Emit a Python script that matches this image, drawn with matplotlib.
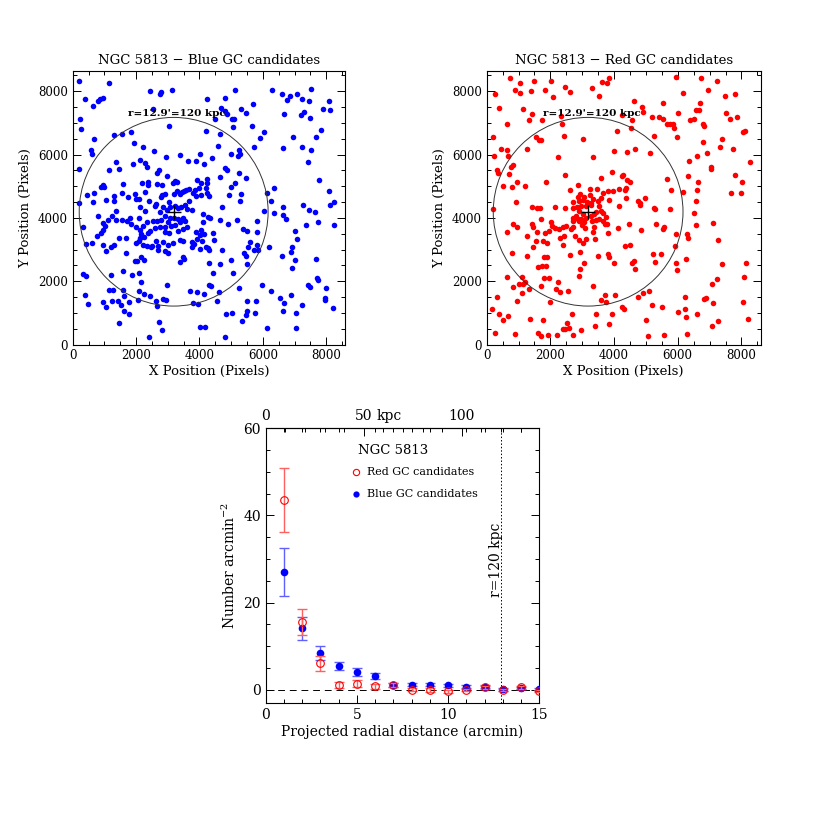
import matplotlib
matplotlib.use('Agg')
import matplotlib.pyplot as plt
from matplotlib.patches import Circle
from matplotlib.ticker import MultipleLocator

# ---------------- data ----------------
blue_pos = [
 (200,8320),(1160,8250),(400,7770),(640,7550),(800,7700),(870,7770),(940,7790),(2430,8000),(2750,7930),(2800,7970),
 (3120,8030),(2540,7450),(240,7110),(270,6820),(3050,6890),(1310,6610),(1560,6640),(1830,6700),(670,6500),(590,6130),
 (610,6020),(1920,6380),(2230,6240),(2570,6120),(2950,5940),(3370,5990),(3650,5790),(3900,5790),(4020,6030),(4150,5690),
 (200,5540),(1160,5500),(1460,5560),(1370,5760),(1900,5700),(2120,5820),(2290,5750),(2350,5620),(2650,5430),(2710,5520),
 (2990,5330),(3220,5170),(3170,5110),(3280,5130),(940,5040),(980,4990),(890,4980),(1600,5070),(2180,5110),(2370,5150),
 (2370,5030),(2660,5080),(2830,5040),(3910,5200),(4040,5110),(3980,4940),(4200,4950),(460,4720),(680,4800),(1050,4570),
 (1290,4700),(1290,4530),(1540,4780),(1740,4650),(1960,4770),(2080,4590),(2000,4600),(2270,4820),(2420,4530),(2640,4450),
 (2820,4730),(2780,4670),(2900,4750),(3040,4490),(3200,4740),(3280,4840),(3400,4740),(3440,4820),(3500,4860),(3590,4880),
 (3680,4920),(3780,4780),(3850,4890),(3890,4690),(4060,4730),(3660,4530),(200,4460),(640,4490),
 (4240,7770),(4820,7790),(5130,8040),(4690,7470),(4810,7380),(4860,7290),(4480,7140),(5040,7110),(5090,7140),(5320,7440),
 (5470,7320),(5690,7590),(6300,8050),(6600,7900),(6770,7730),(6860,7860),(7090,7930),(7230,7760),(7460,7690),(7520,8060),
 (6660,7290),(7210,7240),(7290,7360),(7480,7170),(7900,7430),(8080,7700),(8120,7420),(5650,6890),(5070,6860),(4640,6640),
 (4210,6730),(6040,6700),(5920,6510),(5720,6230),(4590,6260),(5000,6010),(5230,5950),(5270,6030),(5260,6130),(4390,5900),
 (6950,6560),(6630,6220),(7230,6250),(7530,6130),(7690,6570),(7840,6790),(7410,5780),(4790,5580),(4880,5500),(5250,5420),
 (5470,5260),(4640,5280),(4250,5240),(4240,5090),(5000,4970),(5120,5100),(4940,4710),(5300,4750),(5280,4540),(6130,4790),
 (6340,4960),(6260,4550),(7780,5190),(8090,4860),(8230,4500),(4240,4790),(4300,4700),
 (4710,4330),(6640,4330),(7280,4400),(8110,4400),(4340,4010),(4660,3940),(4910,3820),(5190,3930),(5370,3650),(5510,3600),
 (5800,3890),(5800,3550),(6030,4230),(6340,4170),(6640,4100),(6720,3980),(7440,4260),(7640,4200),(7730,3860),(7370,3770),
 (8250,3780),(4430,3520),(4450,3290),(4270,3040),(4310,2980),(4700,3000),(4980,2660),(4310,2590),(4430,2250),(4660,2530),
 (5060,2270),(5400,2890),(5460,2800),(5510,2550),(5580,3240),(5540,3090),(5710,3000),(5830,3160),(5850,2990),(6200,3080),
 (6610,2810),(6920,3090),(6900,2910),(7000,3600),(7090,3320),(7000,2670),(6920,2430),(7680,2710),(5960,1890),(6260,1680),
 (5240,1780),(4600,1660),(4300,1880),(4350,1860),(4540,1360),(5500,1390),(5790,1380),(6540,1460),(6660,1320),(6640,1060),
 (6890,1580),(7230,1260),(7060,1000),(7410,1890),(7500,1810),(7700,2100),(7730,2040),(8000,1790),(7960,1470),(7970,1410),
 (8220,1140),(4830,960),(5040,1000),(5510,1070),(5480,930),(5750,990),(5330,740),(6140,530),(7040,530),(4800,250),
 (2120,4330),(2270,4220),(2610,4380),(2750,4200),(2850,4350),(2970,4250),(3070,4330),(3220,4380),(3320,4310),(3430,4330),
 (3530,4400),(3610,4280),(3770,4260),(4120,4120),(4270,4030),(2920,4070),(3060,4010),(3200,3990),(3320,3960),(3480,4010),
 (2800,3930),(2670,3910),(2540,3890),(3010,3860),(3380,3860),(3530,3890),(3620,3700),(3220,3780),(3090,3750),(2900,3700),
 (2750,3720),(2590,3680),(800,4060),(970,3840),(1010,3730),(1120,3930),(1230,4070),(1380,4210),(1380,3940),(1560,3920),
 (1700,3910),(1810,3990),(1850,3810),(2000,3700),(2090,3990),(2230,3760),(2340,3860),(2110,3610),(2170,3500),(2250,3410),
 (2380,3530),(2440,3590),(2900,3540),(3040,3510),(3310,3580),(3480,3650),(3900,3550),(4040,3610),(4120,3860),(4020,3450),
 (4140,3490),(320,3720),(780,3420),(900,3510),(970,3610),(1460,3350),(1690,3380),(1990,3210),(2080,3280),(2120,3380),
 (2220,3150),(2340,3100),(2500,3110),(2640,3280),(2690,3120),(2860,3240),(3010,3150),(3170,3220),(3390,3300),(3480,3270),
 (3770,3240),(3830,3170),(3910,3340),(4090,3280),(4200,3070),(4020,3030),(3750,3070),(3010,2900),(2920,2960),(2690,2980),
 (2480,3070),(960,3160),(1210,3090),(1300,3140),(1040,2960),(610,3220),(430,3170),(1670,2900),(1980,2650),(2040,2650),
 (2150,2750),(2260,2670),(3490,2770),(3510,2690),(3390,2620),(4140,1590),(320,2230),(410,2180),(1200,2190),(1600,2310),
 (1880,2190),(2100,2270),(2140,1960),(2970,1870),(390,1570),(480,1280),(960,1350),(1160,1720),(1280,1720),(1060,1170),
 (1250,1380),(1430,1390),(1600,1720),(1610,1530),(1780,1350),(1510,1260),(1630,1050),(1770,960),(1460,690),(2080,1680),
 (2070,1410),(2260,1610),(2440,1520),(2620,1360),(2650,1210),(2860,1430),(2950,1410),(2710,700),(2810,470),(2400,250),
 (3710,1680),(3930,1670),(3780,1300),(3940,1280),(4020,560),(4170,560),
]

red_pos = [
 (720,8430),(1030,8250),(1480,8310),(2020,8310),(3620,8290),(3790,8250),(3830,8410),(250,7930),(890,8050),(1050,7950),
 (1400,8000),(1830,8030),(2080,7820),(2450,8120),(2610,7990),(3310,8090),(3530,7860),(400,7480),(1140,7450),(640,6970),
 (1430,7280),(1320,7100),(1740,7100),(2340,7230),(2370,6960),(200,6560),(1550,6560),(1630,6470),(1700,6450),(2420,6590),
 (3030,6490),(4080,6730),(460,6190),(630,6140),(1270,6190),(240,5970),(660,5970),(4010,6110),(2230,5920),(3350,5930),
 (840,5680),(770,5600),(330,5520),(360,5420),(700,5390),(2470,5340),(3590,5270),(3920,5450),(950,5140),(500,5010),
 (800,4980),(1190,5000),(1850,5120),(2860,5050),(2630,4870),(3230,4910),(3450,4910),(3660,4780),(3810,4850),(3980,4850),
 (4170,4900),(910,4490),(3850,4560),(2720,4500),(2860,4670),(2930,4740),(3020,4580),(3140,4500),(3230,4730),(3350,4600),
 (3490,4520),(3590,4620),(2890,4530),(3280,4480),(3070,4660),
 (5960,8440),(6730,8420),(7220,8320),(6170,7950),(6940,8040),(7490,7840),(7790,7900),(4640,7690),(4880,7510),(4920,7360),
 (5540,7640),(4240,7250),(4550,7090),(4520,6850),(5200,7190),(5420,7180),(5540,7140),(5670,6970),(5770,6970),(5850,6970),
 (5890,6850),(6010,7300),(6380,7100),(6500,7140),(6560,7410),(6660,7410),(6710,7640),(6800,6980),(6830,6910),(7510,7320),
 (7650,7140),(7870,7180),(5260,6590),(5980,6570),(6780,6400),(7380,6490),(7320,6250),(7750,6180),(8050,6710),(8110,6730),
 (4670,6190),(4400,6090),(5120,6050),(6920,6050),(6590,5960),(6340,5800),(7030,5610),(7040,5550),(8280,5780),(7810,5360),
 (8010,5140),(4280,5360),(4240,5310),(4410,5190),(4500,5140),(5660,5230),(6310,5310),(6640,5120),(4370,4940),(4340,4880),
 (5790,4870),(6170,4810),(6590,4870),(7660,4800),(7990,4790),(4390,4630),(4960,4630),(4740,4550),(4810,4460),(6570,4530),
 (200,4280),(1430,4350),(1590,4310),(1680,4310),(2160,4350),(2470,4310),(2700,4310),(2830,4350),(2970,4380),(3120,4390),
 (3280,4400),(3540,4390),(2910,4220),(3020,4120),(2810,4070),(2700,4010),(2860,3960),(2960,3960),(3120,4010),(3280,4070),
 (3380,4120),(3430,4200),(3590,4220),(3660,4140),(3750,4030),(3430,3930),(3310,3890),(3070,3860),(2910,3890),(2720,3910),
 (3540,3960),(3640,3910),(4160,4380),(820,3820),(960,3720),(1430,3800),(1450,3700),(1710,3960),(2020,3860),(2060,3750),
 (2140,3680),(2260,3640),(2390,3700),(2490,3750),(2650,3640),(2700,3700),(3000,3780),(3100,3680),(3380,3700),(3350,3570),
 (3710,3800),(3790,3800),(4110,3670),(640,3540),(1260,3420),(1580,3570),(1840,3520),(1970,3590),(2290,3360),(2430,3430),
 (2760,3430),(2910,3300),(3130,3340),(3410,3330),(3800,3510),(1550,3260),(1760,3260),(1880,3220),(1450,3070),(2410,3130),
 (3020,3210),(790,2890),(1250,2810),(1800,2770),(1890,2750),(2620,2840),(2920,2910),(3490,2790),(3800,2860),(3850,2770),
 (4000,2580),(1610,2460),(1740,2480),(1860,2480),(3050,2570),(2940,2400),(630,2140),(1100,2120),(1800,2090),(1950,2100),
 (2910,2160),(1020,1910),(1150,1910),(1210,1990),(840,1830),(1700,1850),(2230,1980),(2190,1760),(2300,1660),(2540,1700),
 (3350,1850),(1320,1750),(1120,1640),(320,1500),(940,1390),(1990,1340),(3730,1560),(4030,1570),(3600,1420),(3760,1330),
 (160,1110),(400,980),(670,900),(500,770),(1360,800),(1760,790),(2680,960),(3420,960),(3920,950),(2530,690),
 (2470,500),(2580,520),(2390,480),(3390,590),(3830,640),(2970,460),(250,370),(880,330),(1620,370),(1710,270),
 (1920,310),(2210,310),(2710,310),
 (4800,4410),(5250,4310),(5290,4290),(5770,4290),(6500,4170),(4470,3800),(4850,3610),(5310,3820),(5530,3660),(5560,3700),
 (5960,3500),(6280,3490),(6320,3380),(6580,3790),(7120,3830),(7250,3310),(4330,3120),(4490,3150),(5900,3120),(5220,2870),
 (5470,2870),(4620,2650),(4550,2570),(4660,2400),(5300,2620),(5960,2570),(5970,2360),(6260,2690),(7400,2530),(8130,2560),
 (7070,1910),(7230,2060),(8080,2140),(5090,1700),(4910,1620),(4740,1500),(6220,1500),(6820,1430),(6880,1480),(7110,1320),
 (8050,1330),(4250,1170),(4310,1110),(5200,1260),(5500,1190),(6000,1040),(6220,1130),(6250,880),(6590,980),(5010,770),
 (7270,750),(7070,590),(8210,800),(5060,260),(5560,300),(6290,340),
]

galaxy_center = (3185, 4195)
circle_radius = 2980
circle_label = "r=12.9'=120 kpc"

radius_arcmin = list(range(1, 16))
red_density = [43.6, 15.5, 6.0, 1.0, 1.4, 0.8, 1.0, 0.0, -0.1, -0.4, -0.1, 0.5, -0.1, 0.5, -0.3]
red_error   = [7.3, 3.0, 1.7, 0.7, 0.7, 0.6, 0.5, 0.4, 0.4, 0.4, 0.3, 0.3, 0.3, 0.3, 0.3]
blue_density = [27.0, 14.1, 8.3, 5.4, 4.0, 3.1, 1.0, 1.15, 1.15, 1.0, 0.7, 0.7, 0.05, 0.4, 0.05]
blue_error   = [5.4, 2.6, 1.6, 1.0, 0.9, 0.6, 0.5, 0.4, 0.4, 0.4, 0.4, 0.3, 0.3, 0.3, 0.3]
r120_arcmin = 12.9
kpc_per_arcmin = 120 / 12.9

# ---------------- plotting ----------------
plt.rcParams['font.family'] = ['DejaVu Serif']
plt.rcParams['mathtext.fontset'] = 'dejavuserif'

fig = plt.figure(figsize=(8.3, 8.3), dpi=100)
ax1 = fig.add_axes([0.0876, 0.5849, 0.3284, 0.3299])
ax2 = fig.add_axes([0.5864, 0.5849, 0.3299, 0.3299])
ax3 = fig.add_axes([0.3201, 0.1534, 0.3296, 0.3306])


def style(ax, labelsize):
    ax.tick_params(which='both', direction='in', top=True, right=True,
                   labelsize=labelsize, width=0.7)
    ax.tick_params(which='major', length=6)
    ax.tick_params(which='minor', length=3)
    for s in ax.spines.values():
        s.set_linewidth(0.8)


for ax, pos, col, title in [(ax1, blue_pos, '#0000ff', 'NGC 5813 \u2212 Blue GC candidates'),
                            (ax2, red_pos, '#ff0000', 'NGC 5813 \u2212 Red GC candidates')]:
    xs = [p[0] for p in pos]
    ys = [p[1] for p in pos]
    ax.plot(xs, ys, 'o', color=col, ms=4.0, mec='none', zorder=2)
    ax.add_patch(Circle(galaxy_center, circle_radius, fill=False, ec='#333333', lw=0.7, zorder=3))
    ax.plot([galaxy_center[0]], [galaxy_center[1]], '+', color='black', ms=10, mew=1.0, zorder=4)
    ax.text(galaxy_center[0] + 110, 7313, circle_label, ha='center', va='center',
            fontsize=7.5, fontweight='bold', zorder=5)
    ax.set_xlim(0, 8600)
    ax.set_ylim(0, 8650)
    ax.xaxis.set_major_locator(MultipleLocator(2000))
    ax.xaxis.set_minor_locator(MultipleLocator(500))
    ax.yaxis.set_major_locator(MultipleLocator(2000))
    ax.yaxis.set_minor_locator(MultipleLocator(500))
    style(ax, 8.5)
    ax.set_xlabel('X Position (Pixels)', fontsize=9.5, labelpad=2)
    ax.set_ylabel('Y Position (Pixels)', fontsize=9.5, labelpad=4)
    ax.set_title(title, fontsize=9.5, pad=5)

# bottom panel
ax3.errorbar(radius_arcmin, blue_density, yerr=blue_error, fmt='none',
             ecolor='#6060ff', elinewidth=1.0, capsize=3.5, capthick=1.0, zorder=2)
ax3.plot(radius_arcmin, blue_density, 'o', color='#0000ff', ms=5.5, mec='none', zorder=3)
ax3.errorbar(radius_arcmin, red_density, yerr=red_error, fmt='none',
             ecolor='#ff6060', elinewidth=1.0, capsize=3.5, capthick=1.0, zorder=4)
ax3.plot(radius_arcmin, red_density, 'o', mfc='none', mec='#ff0000', ms=5.5, mew=0.8, zorder=5)

ax3.axhline(0, color='black', lw=0.7, ls=(0, (7, 5)), zorder=1)
ax3.axvline(r120_arcmin, color='black', lw=0.7, ls=(0, (1.5, 2)), zorder=1)
ax3.text(12.62, 29.8, 'r=120 kpc', rotation=90, ha='center', va='center', fontsize=10)

ax3.text(5.08, 54.8, 'NGC 5813', fontsize=9.5, va='center', ha='left')
ax3.plot([4.97], [50.0], 'o', mfc='none', mec='#ff0000', ms=4.5, mew=0.8)
ax3.plot([4.97], [44.9], 'o', color='#0000ff', ms=4.5, mec='none')
ax3.text(5.56, 50.0, 'Red GC candidates', fontsize=8, va='center', ha='left')
ax3.text(5.56, 44.9, 'Blue GC candidates', fontsize=8, va='center', ha='left')

ax3.set_xlim(0, 15)
ax3.set_ylim(-3, 60)
ax3.xaxis.set_major_locator(MultipleLocator(5))
ax3.xaxis.set_minor_locator(MultipleLocator(1))
ax3.yaxis.set_major_locator(MultipleLocator(20))
ax3.yaxis.set_minor_locator(MultipleLocator(5))
style(ax3, 10)
ax3.tick_params(top=False)
ax3.set_xlabel('Projected radial distance (arcmin)', fontsize=10, labelpad=2)
ax3.set_ylabel('Number arcmin$^{-2}$', fontsize=10, labelpad=4)

secax = ax3.secondary_xaxis('top', functions=(lambda a: a * kpc_per_arcmin,
                                              lambda k: k / kpc_per_arcmin))
secax.set_xticks([0, 50, 100], labels=['0', '50', '100'])
secax.xaxis.set_minor_locator(MultipleLocator(10))
secax.tick_params(which='both', direction='in', labelsize=10, width=0.7)
secax.tick_params(which='major', length=6)
secax.tick_params(which='minor', length=3)
ax3.annotate('kpc', xy=(50 / kpc_per_arcmin, 1), xycoords=('data', 'axes fraction'),
             xytext=(9, 3.5), textcoords='offset points', ha='left', va='bottom', fontsize=10)

fig.savefig('out.png', dpi=100)
